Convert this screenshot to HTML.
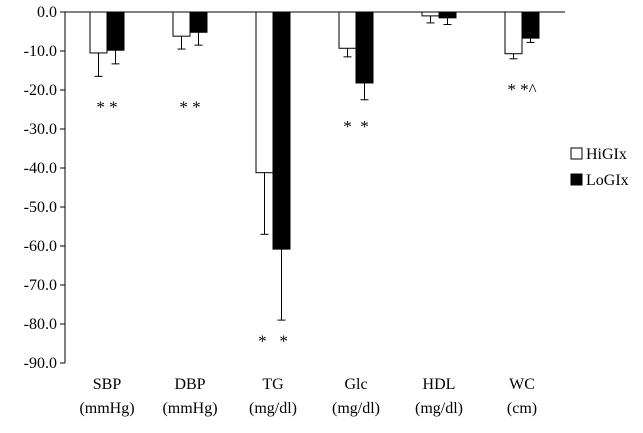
<!DOCTYPE html>
<html><head><meta charset="utf-8"><style>
body{margin:0;background:#fff;}
svg text{font-family:"Liberation Serif","DejaVu Serif",serif;fill:#000;}
</style></head><body>
<svg id="chart" width="643" height="428" xmlns="http://www.w3.org/2000/svg"></svg>
<script>
const categories=["SBP","DBP","TG","Glc","HDL","WC"];
const units=["(mmHg)","(mmHg)","(mg/dl)","(mg/dl)","(mg/dl)","(cm)"];
const hiValues=[-10.5,-6.2,-41.2,-9.3,-1.0,-10.7];
const loValues=[-9.8,-5.2,-60.8,-18.2,-1.5,-6.7];
const hiErrors=[6.0,3.3,15.8,2.2,1.8,1.3];
const loErrors=[3.5,3.3,18.2,4.3,1.7,1.1];
const marks=["* *","* *","*   *","*  *","","* *^"];
const markValues=[-24,-24,-84,-29,0,-19.5];
const yTicks=[0,-10,-20,-30,-40,-50,-60,-70,-80,-90];

const svg=document.getElementById('chart');
const NS="http://www.w3.org/2000/svg";
const y0=12, pxPer=3.9, axisX=65, firstCenter=107, step=83, barW=17;
const yS=v=>y0+(-v)*pxPer;
const xC=i=>firstCenter+i*step;
function mk(t,a){const e=document.createElementNS(NS,t);for(const k in a)e.setAttribute(k,a[k]);svg.appendChild(e);return e;}

let ax=mk('line',{x1:axisX,y1:y0,x2:axisX,y2:yS(-90),stroke:'#000','stroke-width':1});


let xa=mk('line',{x1:axisX,y1:y0,x2:565,y2:y0,stroke:'#000','stroke-width':1});



yTicks.forEach(v=>{
  const y=yS(v);
  let tk=mk('line',{x1:axisX-5,y1:y,x2:axisX,y2:y,stroke:'#000'});
  
  
  let t=mk('text',{x:axisX-8,y:y+5,'text-anchor':'end','font-size':16});
  t.textContent=v.toFixed(1);
  
  
});

function errBar(x,v,e){
  const yb=yS(v), ye=yS(v-e);
  let l=mk('line',{x1:x,y1:yb,x2:x,y2:ye,stroke:'#000'});
  
  
  let c=mk('line',{x1:x-4,y1:ye,x2:x+4,y2:ye,stroke:'#000'});
  
  
}

categories.forEach((c,i)=>{
  const cx=xC(i);
  const yh=yS(hiValues[i]);
  let b1=mk('rect',{x:cx-barW,y:y0,width:barW,height:yh-y0,fill:'#fff',stroke:'#000','stroke-width':1});
  
  
  const yl=yS(loValues[i]);
  let b2=mk('rect',{x:cx,y:y0,width:barW,height:yl-y0,fill:'#000',stroke:'#000','stroke-width':1});
  
  
  errBar(cx-barW/2,hiValues[i],hiErrors[i]);
  errBar(cx+barW/2,loValues[i],loErrors[i]);
  if(marks[i]){
    let m=mk('text',{x:cx,y:yS(markValues[i])+7,'text-anchor':'middle','font-size':17,style:'white-space:pre'});
    m.textContent=marks[i];
    
    
  }
  let t1=mk('text',{x:cx,y:389,'text-anchor':'middle','font-size':16});
  t1.textContent=c;
  
  
  let t2=mk('text',{x:cx,y:413,'text-anchor':'middle','font-size':16});
  t2.textContent=units[i];
  
  
});

[["HiGIx","#fff",154],["LoGIx","#000",180]].forEach(([n,f,y])=>{
  let r=mk('rect',{x:571,y:y-6,width:11,height:11,fill:f,stroke:'#000'});
  
  
  let t=mk('text',{x:586,y:y+5,'font-size':16});
  t.textContent=n;
  
  
});
</script>
</body></html>
